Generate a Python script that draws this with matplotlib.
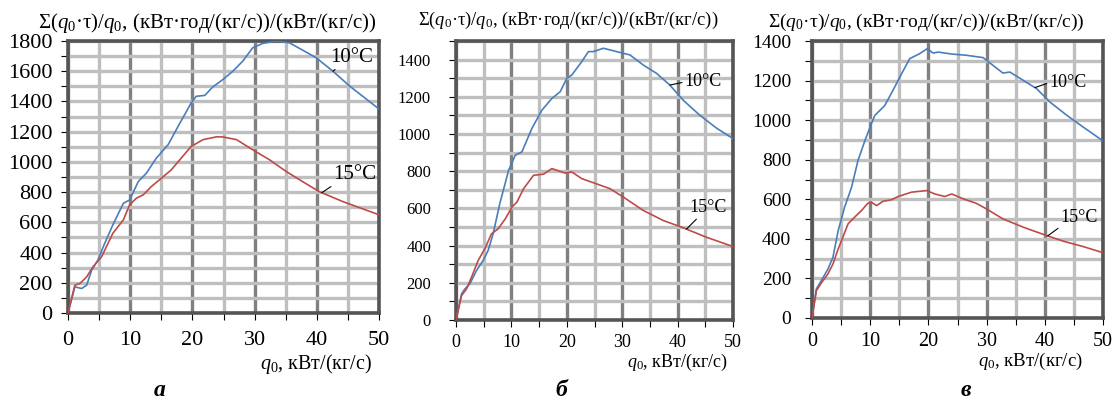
import numpy as np
import matplotlib
matplotlib.use("Agg")
import matplotlib.pyplot as plt
from matplotlib.ticker import MultipleLocator

plt.rcParams['font.family'] = ['Liberation Serif', 'DejaVu Serif']
plt.rcParams['mathtext.fontset'] = 'custom'
plt.rcParams['mathtext.rm'] = 'Liberation Serif'
plt.rcParams['mathtext.it'] = 'Liberation Serif:italic'
plt.rcParams['mathtext.bf'] = 'Liberation Serif:bold'

# ---- data ----
# panel а
qa_10 = [0, 1.1, 2.2, 3.0, 3.8, 4.8, 5.9, 7.2, 8.9, 9.9, 11.3, 12.6, 14.2, 16.1, 17.7, 19.8,
         20.6, 22.0, 23.3, 24.9, 26.5, 28.1, 29.7, 31.3, 33.5, 35.6, 37.7, 39.9, 42.6, 45.3, 50]
va_10 = [0, 173, 162, 184, 283, 350, 461, 582, 726, 748, 870, 925, 1025, 1114, 1235, 1390,
         1434, 1440, 1497, 1545, 1600, 1667, 1755, 1784, 1800, 1788, 1740, 1689, 1600, 1501, 1350]
qa_15 = [0, 1.1, 1.9, 3.0, 4.0, 5.4, 7.2, 8.9, 9.9, 11.0, 12.1, 13.4, 14.7, 16.6, 18.2, 19.8,
         21.7, 23.9, 24.9, 27.1, 29.7, 32.4, 35.1, 37.7, 40.4, 44.2, 50]
va_15 = [0, 184, 195, 239, 305, 372, 527, 616, 715, 760, 782, 837, 881, 947, 1025, 1102,
         1147, 1166, 1165, 1147, 1080, 1014, 936, 870, 803, 737, 650]

# panel б
qb_10 = [0, 1.0, 1.6, 2.5, 3.7, 4.9, 5.8, 6.7, 7.9, 9.5, 10.7, 11.9, 13.7, 15.5, 17.3, 18.8,
         20.0, 20.9, 22.7, 23.9, 24.8, 26.6, 29.0, 31.4, 33.8, 36.2, 38.6, 41.0, 44.0, 47.1, 50]
vb_10 = [0, 140, 167, 194, 266, 320, 374, 463, 625, 805, 886, 904, 1030, 1128, 1191, 1227,
         1299, 1317, 1389, 1443, 1443, 1461, 1443, 1425, 1371, 1326, 1263, 1182, 1101, 1030, 975]
qb_15 = [0, 1.0, 1.9, 2.8, 4.0, 5.2, 6.4, 7.6, 8.9, 10.1, 11.0, 12.2, 14.0, 15.8, 17.3, 19.7,
         20.9, 22.7, 24.8, 27.8, 30.2, 33.8, 37.4, 41.0, 45.2, 50]
vb_15 = [0, 131, 167, 230, 320, 383, 463, 490, 544, 607, 634, 706, 778, 784, 814, 790,
         796, 760, 738, 706, 661, 589, 535, 496, 445, 395]

# panel в
qc_10 = [0, 0.75, 1.6, 2.75, 3.6, 4.5, 5.6, 6.8, 7.9, 9.1, 10.2, 10.8, 12.5, 13.9, 15.4, 16.8,
         18.5, 19.8, 20.8, 21.7, 24.0, 26.5, 29.4, 31.1, 32.8, 34.0, 36.3, 38.6, 40.9, 43.8, 46.6, 50]
vc_10 = [0, 147, 189, 248, 307, 442, 560, 661, 796, 897, 982, 1024, 1074, 1150, 1235, 1311,
         1336, 1361, 1339, 1344, 1334, 1328, 1316, 1277, 1238, 1243, 1201, 1159, 1091, 1024, 965, 895]
qc_15 = [0, 0.75, 1.6, 2.75, 3.6, 4.5, 5.3, 6.2, 7.3, 8.5, 9.6, 10.2, 11.1, 12.2, 13.6, 14.8,
         17.1, 19.7, 21.1, 22.8, 24.0, 26.0, 28.2, 30.0, 32.8, 36.3, 39.8, 43.2, 46.6, 50]
vc_15 = [0, 138, 177, 223, 273, 349, 408, 476, 509, 543, 580, 585, 568, 590, 597, 614,
         636, 644, 627, 614, 627, 602, 580, 551, 501, 459, 422, 388, 361, 330]

y_label = 'Σ($q_0$·τ)/$q_0$, (кВт·год/(кг/с))/(кВт/(кг/с))'
x_label = '$q_0$, кВт/(кг/с)'
panel_names = ['а', 'б', 'в']
curve_names = ['10°C', '15°C']

BLUE = '#4a7ebb'
RED = '#be4b48'

W, H = 1116, 399
fig = plt.figure(figsize=(W / 100, H / 100), dpi=100)


def box(l, r, t, b):
    return [l / W, 1 - b / H, (r - l) / W, (b - t) / H]


def ftext(x, y, s, **kw):
    return fig.text(x / W, 1 - y / H, s, **kw)


# ann: (q on curve, q of text, value of text, where the leader meets the text)
panels = [
    dict(pos=box(68, 379, 41, 313), ymax=1800, data=(qa_10, va_10, qa_15, va_15),
         ytsize=16, xtsize=16, ysize=15, xsize=14.5, lsize=15, ypad=6, xpad=8,
         ylab=(38, 23), xlab=(372, 364), letter=(160, 396),
         ann10=(42.6, 42.1, 1630, (0.2, 0.0)), ann15=(40.8, 42.6, 855, (0.05, 0.0))),
    dict(pos=box(456, 733, 41, 320), ymax=1500, data=(qb_10, vb_10, qb_15, vb_15),
         ytsize=12, xtsize=13, ysize=13.3, xsize=13, lsize=13, ypad=13, xpad=5,
         ylab=(418, 20), xlab=(728, 362), letter=(561, 396),
         ann10=(38.6, 41.3, 1280, (0.0, 0.5)), ann15=(41.6, 42.2, 557, (0.25, 0.0))),
    dict(pos=box(812, 1103, 41, 318), ymax=1400, data=(qc_10, vc_10, qc_15, vc_15),
         ytsize=14, xtsize=14.5, ysize=14, xsize=13.5, lsize=13, ypad=10, xpad=5,
         ylab=(768, 22), xlab=(1083, 361), letter=(966, 396),
         ann10=(38.3, 40.8, 1190, (0.0, 0.5)), ann15=(40.5, 42.6, 467, (0.05, 0.0))),
]

for p, name in zip(panels, panel_names):
    ax = fig.add_axes(p['pos'])
    q10, v10, q15, v15 = p['data']
    ax.set_xlim(0, 50)
    ax.set_ylim(0, p['ymax'])

    # Excel-like grid
    ax.xaxis.set_major_locator(MultipleLocator(10))
    ax.xaxis.set_minor_locator(MultipleLocator(5))
    ax.yaxis.set_major_locator(MultipleLocator(200))
    ax.yaxis.set_minor_locator(MultipleLocator(100))
    ax.grid(True, which='minor', axis='x', color='#bfbfbf', lw=2.4, zorder=0)
    ax.grid(True, which='major', axis='x', color='#808080', lw=2.4, zorder=0)
    ax.grid(True, which='both', axis='y', color='#bfbfbf', lw=2.4, zorder=0)
    ax.set_axisbelow(True)

    ax.plot(q10, v10, color=BLUE, lw=1.2, zorder=3)
    ax.plot(q15, v15, color=RED, lw=1.2, zorder=3)

    for sp in ax.spines.values():
        sp.set_color('#555555')
        sp.set_linewidth(2.6)

    ax.tick_params(which='both', direction='out', length=5, width=0.8, color='black',
                   top=False, right=False)
    ax.tick_params(axis='y', labelsize=p['ytsize'], pad=p['ypad'])
    ax.tick_params(axis='x', labelsize=p['xtsize'], pad=p['xpad'])

    # curve labels with leader lines
    for (qc, qt, vt, rel), q, v, lab in [(p['ann10'], q10, v10, curve_names[0]),
                                         (p['ann15'], q15, v15, curve_names[1])]:
        va = 'center' if rel[1] == 0.5 else 'bottom'
        ax.annotate(lab, xy=(qc, np.interp(qc, q, v)), xytext=(qt, vt),
                    ha='left', va=va, fontsize=p['lsize'], zorder=5,
                    arrowprops=dict(arrowstyle='-', color='black', lw=0.8,
                                    relpos=rel, shrinkA=0, shrinkB=0))

    ftext(*p['ylab'], y_label, fontsize=p['ysize'], ha='left', va='center')
    ftext(*p['xlab'], x_label, fontsize=p['xsize'], ha='right', va='center')
    ftext(*p['letter'], name, fontsize=17, fontweight='bold', fontstyle='italic',
          ha='center', va='baseline')

fig.savefig('out.png', dpi=100)
